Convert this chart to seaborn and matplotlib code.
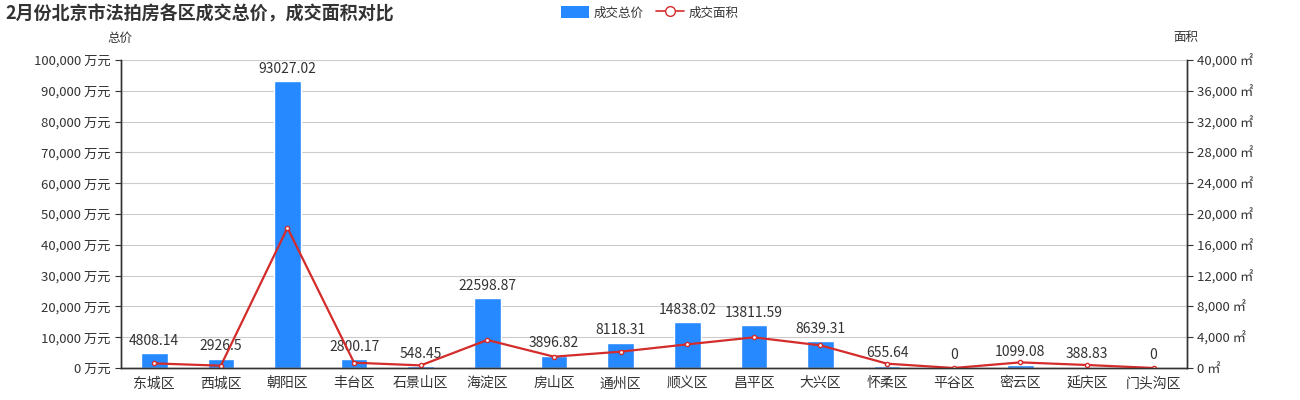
import matplotlib
matplotlib.use('Agg')
import matplotlib.pyplot as plt
import matplotlib.ticker as mticker
import seaborn as sns
from matplotlib.patches import Patch
from matplotlib.lines import Line2D

# 数据
districts = ['东城区', '西城区', '朝阳区', '丰台区', '石景山区', '海淀区', '房山区', '通州区',
             '顺义区', '昌平区', '大兴区', '怀柔区', '平谷区', '密云区', '延庆区', '门头沟区']
total_price = [4808.14, 2926.5, 93027.02, 2800.17, 548.45, 22598.87, 3896.82, 8118.31,
               14838.02, 13811.59, 8639.31, 655.64, 0, 1099.08, 388.83, 0]
area = [600, 300, 18200, 690, 340, 3640, 1470, 2120,
        3070, 3980, 2940, 560, 0, 730, 390, 0]

BLUE = '#2689ff'
RED = '#d42b2b'
TXT = '#333333'

sns.set_style('white')
plt.rcParams['font.family'] = ['Noto Sans CJK SC', 'DejaVu Sans']

fig = plt.figure(figsize=(13, 4), dpi=100)
ax = fig.add_axes([0.093, 0.08, 0.82, 0.77])

sns.barplot(x=districts, y=total_price, color=BLUE, width=0.4, saturation=1, ax=ax, zorder=2)
for p, v in zip(ax.patches, total_price):
    lab = f'{v:.2f}'.rstrip('0').rstrip('.')
    ax.annotate(lab, (p.get_x() + p.get_width() / 2, p.get_height()),
                xytext=(0, 4), textcoords='offset points', ha='center', va='bottom',
                fontsize=10, color=TXT)

ax.set_ylim(0, 100000)
ax.yaxis.set_major_locator(mticker.MultipleLocator(10000))
ax.yaxis.set_major_formatter(mticker.FuncFormatter(lambda v, _: f'{v:,.0f} 万元'))
ax.grid(axis='y', color='#cccccc', linewidth=0.8, zorder=0)
ax.set_axisbelow(True)

ax2 = ax.twinx()
sns.pointplot(x=districts, y=area, color=RED, errorbar=None, ax=ax2,
              markers='o', markersize=3, linewidth=1.6,
              markerfacecolor='white', markeredgecolor=RED, markeredgewidth=1.0)
ax2.set_ylim(0, 40000)
ax2.yaxis.set_major_locator(mticker.MultipleLocator(4000))
ax2.yaxis.set_major_formatter(mticker.FuncFormatter(lambda v, _: f'{v:,.0f} ㎡'))
ax2.grid(False)

for a in (ax, ax2):
    a.set_xlim(-0.5, len(districts) - 0.5)
    a.set_xlabel('')
    a.set_ylabel('')
    a.spines['top'].set_visible(False)
    for s in ('left', 'right', 'bottom'):
        a.spines[s].set_color(TXT)
        a.spines[s].set_linewidth(1)

ax.set_xticks(range(len(districts)))
ax.set_xticklabels(districts)
ax.set_xticks([i - 0.5 for i in range(len(districts) + 1)], minor=True)
ax.tick_params(axis='x', which='major', length=0, labelsize=10, colors=TXT, pad=6)
ax.tick_params(axis='x', which='minor', length=5, color=TXT, direction='out')
ax.tick_params(axis='y', length=4, color=TXT, labelsize=9.5, labelcolor=TXT, left=True, direction='out')
ax2.tick_params(axis='y', length=4, color=TXT, labelsize=9.5, labelcolor=TXT, right=True, direction='out')

fig.text(0.004, 0.965, '2月份北京市法拍房各区成交总价，成交面积对比', fontsize=13,
         fontweight='bold', color=TXT, ha='left', va='center')
fig.text(0.092, 0.905, '总价', fontsize=9, color=TXT, ha='center', va='center')
fig.text(0.912, 0.905, '面积', fontsize=9, color=TXT, ha='center', va='center')

# 图例
handles = [Patch(facecolor=BLUE, edgecolor='none'),
           Line2D([0], [0], color=RED, marker='o', markersize=7, markerfacecolor='white',
                  markeredgecolor=RED, linewidth=1.2)]
fig.legend(handles, ['成交总价', '成交面积'], loc='center', bbox_to_anchor=(0.5, 0.968), ncol=2,
           frameon=False, fontsize=9, labelcolor=TXT, handlelength=2.2, handleheight=1.1,
           columnspacing=1.0, handletextpad=0.4)

fig.savefig('out.png', dpi=100)
